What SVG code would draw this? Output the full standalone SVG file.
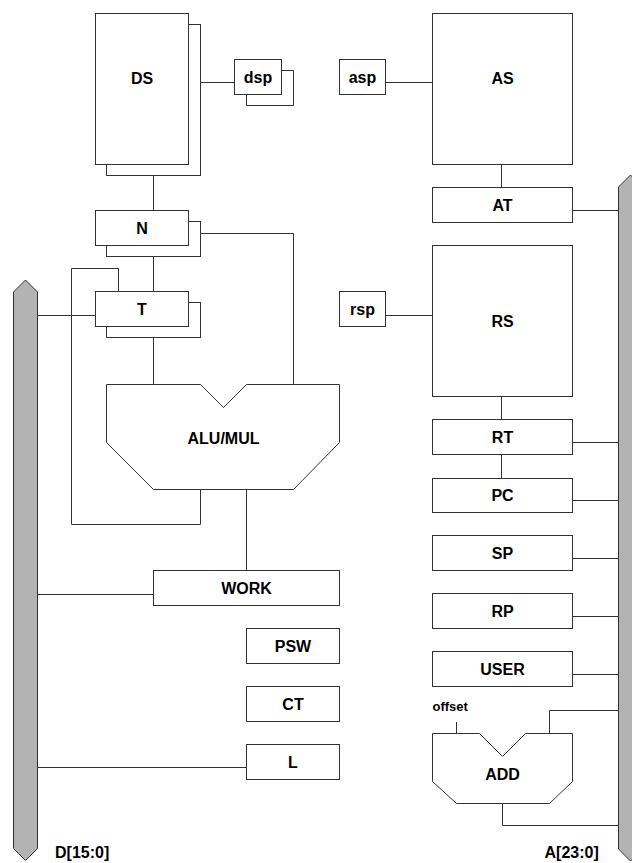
<svg xmlns="http://www.w3.org/2000/svg" width="632" height="863" viewBox="0 0 632 863">
<style>
.b{fill:#fff;stroke:#333;stroke-width:1}
.bus{fill:#b3b3b3;stroke:#333;stroke-width:1}
.c{fill:none;stroke:#333;stroke-width:1}
text{font-family:"Liberation Sans",Arial,sans-serif;font-weight:bold;font-size:16px;fill:#000;text-anchor:middle}
.s{font-size:13px;text-anchor:start}
.l{text-anchor:start}
</style>
<rect width="632" height="863" fill="#fff"/>
<g id="connectors">
<path class="c" d="M200.5,82.5H234.5"/>
<path class="c" d="M153.5,175.5V210.5"/>
<path class="c" d="M200.5,233.5H293.5V384.5"/>
<path class="c" d="M153.5,256.5V291.5"/>
<path class="c" d="M200.5,489.5V524.5H71.5V268.5H118.5V291.5"/>
<path class="c" d="M37.5,315.5H95.5"/>
<path class="c" d="M153.5,337.5V384.5"/>
<path class="c" d="M246.5,489.5V570.5"/>
<path class="c" d="M37.5,594.5H153.5"/>
<path class="c" d="M37.5,767.5H246.5"/>
<path class="c" d="M385.5,82.5H432.5"/>
<path class="c" d="M501.5,164.5V187.5"/>
<path class="c" d="M572.5,210.5H618.5"/>
<path class="c" d="M385.5,315.5H432.5"/>
<path class="c" d="M501.5,396.5V419.5"/>
<path class="c" d="M572.5,442.5H618.5"/>
<path class="c" d="M501.5,454.5V478.5"/>
<path class="c" d="M572.5,500.5H618.5"/>
<path class="c" d="M572.5,558.5H618.5"/>
<path class="c" d="M572.5,616.5H618.5"/>
<path class="c" d="M572.5,674.5H618.5"/>
<path class="c" d="M618.5,710.5H549.5V733.5"/>
<path class="c" d="M456.5,722V733.5"/>
<path class="c" d="M502.5,803.5V825.5H618.5"/>
</g>
<g id="bus-d">
<polygon class="bus" points="13.5,292 25.5,280 37.5,292 37.5,848.5 25.5,860.5 13.5,848.5"/>
<text class="l" x="55" y="858">D[15:0]</text>
</g>
<g id="bus-a">
<polygon class="bus" points="618.5,187 630.5,175 642.5,187 642.5,849 630.5,861 618.5,849"/>
<text class="l" x="544.5" y="858">A[23:0]</text>
</g>
<g id="DS">
<rect class="b" x="106.5" y="24.5" width="94" height="151"/>
<rect class="b" x="95.5" y="13.5" width="93" height="151"/>
<text x="142" y="83.5">DS</text>
</g>
<g id="dsp">
<rect class="b" x="246.5" y="70.5" width="47" height="35"/>
<rect class="b" x="234.5" y="59.5" width="47" height="35"/>
<text x="258" y="82.5">dsp</text>
</g>
<g id="N">
<rect class="b" x="106.5" y="221.5" width="94" height="35"/>
<rect class="b" x="95.5" y="210.5" width="93" height="35"/>
<text x="142" y="233.5">N</text>
</g>
<g id="T">
<rect class="b" x="106.5" y="302.5" width="94" height="35"/>
<rect class="b" x="95.5" y="291.5" width="93" height="35"/>
<text x="142" y="315">T</text>
</g>
<g id="ALU">
<polygon class="b" points="106.5,384.5 200.5,384.5 223.5,407.5 246.5,384.5 339.5,384.5 339.5,442.5 293.5,489.5 153.5,489.5 106.5,442.5"/>
<text x="223.5" y="443.5">ALU/MUL</text>
</g>
<g id="WORK">
<rect class="b" x="153.5" y="570.5" width="186" height="35"/>
<text x="246.5" y="594">WORK</text>
</g>
<g id="PSW">
<rect class="b" x="246.5" y="628.5" width="93" height="35"/>
<text x="293" y="652">PSW</text>
</g>
<g id="CT">
<rect class="b" x="246.5" y="686.5" width="93" height="35"/>
<text x="293" y="710">CT</text>
</g>
<g id="L">
<rect class="b" x="246.5" y="744.5" width="93" height="35"/>
<text x="293" y="768">L</text>
</g>
<g id="asp">
<rect class="b" x="339.5" y="59.5" width="46" height="35"/>
<text x="362.5" y="82.5">asp</text>
</g>
<g id="AS">
<rect class="b" x="432.5" y="13.5" width="140" height="151"/>
<text x="502.5" y="84">AS</text>
</g>
<g id="AT">
<rect class="b" x="432.5" y="187.5" width="140" height="35"/>
<text x="502.5" y="211">AT</text>
</g>
<g id="rsp">
<rect class="b" x="339.5" y="291.5" width="46" height="35"/>
<text x="362.5" y="315">rsp</text>
</g>
<g id="RS">
<rect class="b" x="432.5" y="245.5" width="140" height="151"/>
<text x="502.5" y="327">RS</text>
</g>
<g id="RT">
<rect class="b" x="432.5" y="419.5" width="140" height="35"/>
<text x="502.5" y="443">RT</text>
</g>
<g id="PC">
<rect class="b" x="432.5" y="478.5" width="140" height="34"/>
<text x="502.5" y="501">PC</text>
</g>
<g id="SP">
<rect class="b" x="432.5" y="535.5" width="140" height="35"/>
<text x="502.5" y="559">SP</text>
</g>
<g id="RP">
<rect class="b" x="432.5" y="593.5" width="140" height="35"/>
<text x="502.5" y="617">RP</text>
</g>
<g id="USER">
<rect class="b" x="432.5" y="651.5" width="140" height="35"/>
<text x="502.5" y="675">USER</text>
</g>
<g id="ADD">
<polygon class="b" points="432.5,733.5 479.5,733.5 502.5,756.5 525.5,733.5 572.5,733.5 572.5,781.5 549.5,803.5 456.5,803.5 432.5,781.5"/>
<text x="502.5" y="780">ADD</text>
<text class="s" x="432.5" y="710.5">offset</text>
</g>
</svg>
